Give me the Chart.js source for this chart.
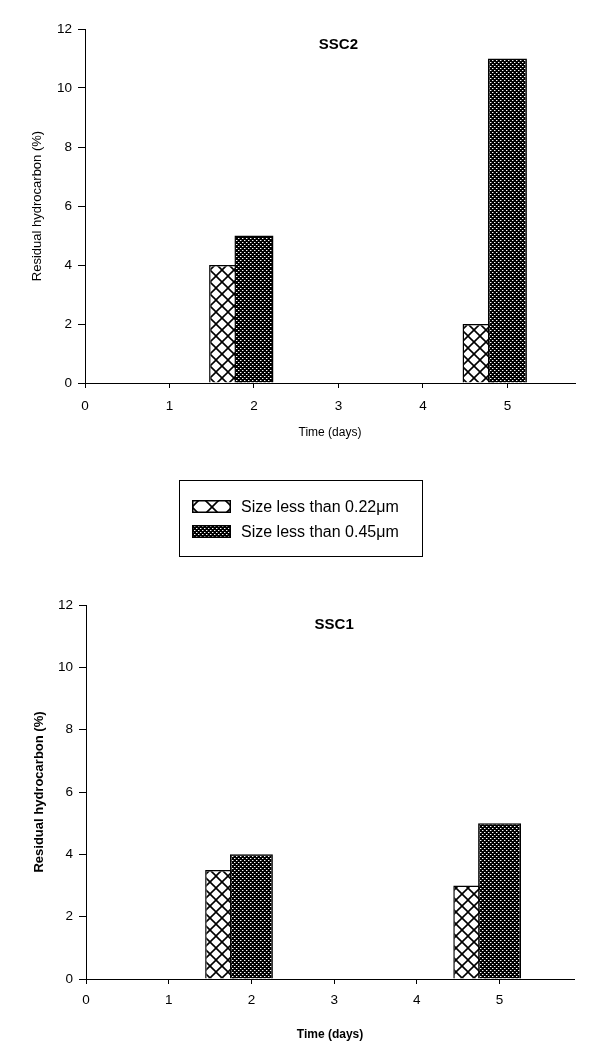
<!DOCTYPE html>
<html>
<head>
<meta charset="utf-8">
<script src="https://cdn.jsdelivr.net/npm/chart.js@4.4.1/dist/chart.umd.min.js"></script>
<style>
  html, body { margin: 0; padding: 0; background: #fff; }
  body { width: 600px; height: 1063px; position: relative; overflow: hidden; font-family: Arial, "Liberation Sans", sans-serif; }
  canvas.plot { position: absolute; left: 0; }
  #legend { position: absolute; left: 179px; top: 480px; width: 244px; height: 77px; border: 1.5px solid #000; box-sizing: border-box; }
  .row { position: absolute; left: 12px; height: 16px; display: flex; align-items: center; font-size: 16px; color: #000; white-space: nowrap; }
  .row canvas { width: 39px; height: 13px; margin-right: 10px; }
</style>
</head>
<body>
<canvas id="topChart" class="plot" width="600" height="453" style="top:0"></canvas>
<div id="legend"></div>
<canvas id="bottomChart" class="plot" width="600" height="475" style="top:576px"></canvas>

<script>
// days on the x axis
var days = [2, 5];
// the finer fraction sits just left of each day, partly behind the coarser bar
var smallDays = [1.7, 4.7];
var xTicks = [0, 1, 2, 3, 4, 5];

var seriesNames = ['Size less than 0.22\u03bcm', 'Size less than 0.45\u03bcm'];

// SSC2 (top)
var ssc2Small = [4, 2];
var ssc2Large = [5, 11];
// SSC1 (bottom)
var ssc1Small = [3.5, 3];
var ssc1Large = [4, 5];

var FONT = 'Arial, "Liberation Sans", sans-serif';

function hatchPattern(size) {
    var c = document.createElement('canvas');
    c.width = size; c.height = size;
    var g = c.getContext('2d');
    g.fillStyle = '#fff';
    g.fillRect(0, 0, size, size);
    g.strokeStyle = '#000';
    g.lineWidth = 1.6;
    [-size, 0, size].forEach(function(k) {
        g.beginPath(); g.moveTo(k - 2, -2); g.lineTo(k + size + 2, size + 2); g.stroke();
        g.beginPath(); g.moveTo(k + size + 2, -2); g.lineTo(k - 2, size + 2); g.stroke();
    });
    return g.createPattern(c, 'repeat');
}

function dotPattern() {
    var c = document.createElement('canvas');
    c.width = 4; c.height = 4;
    var g = c.getContext('2d');
    g.fillStyle = '#000';
    g.fillRect(0, 0, 4, 4);
    g.fillStyle = '#fff';
    g.fillRect(0, 0, 1, 1);
    g.fillRect(2, 2, 1, 1);
    g.fillStyle = '#6a6a6a';
    g.fillRect(1, 0, 1, 1);
    g.fillRect(3, 2, 1, 1);
    return g.createPattern(c, 'repeat');
}

var hatch = hatchPattern(12);
var dots = dotPattern();

// title drawn inside the plot area
var innerTitle = {
    id: 'innerTitle',
    afterDraw: function(chart, args, opts) {
        var ctx = chart.ctx;
        ctx.save();
        ctx.font = opts.font;
        ctx.fillStyle = '#000';
        ctx.textAlign = 'center';
        ctx.textBaseline = 'middle';
        ctx.fillText(opts.text, chart.scales.x.getPixelForValue(opts.atX), chart.chartArea.top + opts.dy);
        ctx.restore();
    }
};

function makeChart(id, s) {
    var ctx = document.getElementById(id).getContext('2d');
    var weight = s.bold ? 'bold' : 'normal';
    return new Chart(ctx, {
        type: 'bar',
        data: {
            datasets: [{
                label: seriesNames[1],
                data: days.map(function(d, i) { return { x: d, y: s.large[i] }; }),
                backgroundColor: dots,
                borderColor: '#000',
                borderWidth: 1.5,
                barPercentage: s.barPct,
                categoryPercentage: 1,
                order: 0
            }, {
                label: seriesNames[0],
                data: smallDays.map(function(d, i) { return { x: d, y: s.small[i] }; }),
                backgroundColor: hatch,
                borderColor: '#000',
                borderWidth: 1.5,
                barPercentage: s.barPct,
                categoryPercentage: 1,
                order: 1
            }]
        },
        options: {
            responsive: false,
            animation: false,
            events: [],
            grouped: false,
            layout: { padding: { left: 0, top: 29, right: s.right, bottom: 0 } },
            plugins: {
                legend: { display: false },
                tooltip: { enabled: false },
                innerTitle: { text: s.title, atX: 3, dy: s.titleDy, font: 'bold 15px ' + FONT }
            },
            scales: {
                x: {
                    type: 'linear',
                    min: 0,
                    max: s.xMax,
                    offset: false,
                    afterFit: function(sc) { sc.height = s.xHeight; },
                    afterBuildTicks: function(sc) {
                        sc.ticks = xTicks.map(function(v) { return { value: v }; });
                    },
                    ticks: {
                        color: '#000',
                        padding: s.xTickPad,
                        maxRotation: 0,
                        font: { family: FONT, size: 13.5 }
                    },
                    grid: { display: true, offset: false, drawOnChartArea: false, drawTicks: true, tickLength: 5, color: '#000' },
                    border: { display: true, color: '#000', width: 1 },
                    title: {
                        display: true,
                        text: 'Time (days)',
                        color: '#000',
                        font: { family: FONT, size: 12, weight: weight },
                        padding: { top: 0, bottom: s.xTitlePad }
                    }
                },
                y: {
                    min: 0,
                    max: 12,
                    afterFit: function(sc) { sc.width = s.yWidth; },
                    ticks: {
                        stepSize: 2,
                        color: '#000',
                        padding: 6,
                        font: { family: FONT, size: 13.5 }
                    },
                    grid: { display: true, drawOnChartArea: false, drawTicks: true, tickLength: 7, color: '#000' },
                    border: { display: true, color: '#000', width: 1 },
                    title: {
                        display: true,
                        text: 'Residual hydrocarbon (%)',
                        color: '#000',
                        font: { family: FONT, size: 13, weight: weight },
                        padding: { top: s.yTitlePad, bottom: 0 }
                    }
                }
            }
        },
        plugins: [innerTitle]
    });
}

makeChart('topChart', {
    title: 'SSC2', small: ssc2Small, large: ssc2Large,
    bold: false, right: 25, xMax: 5.8, yWidth: 85, xHeight: 70,
    xTickPad: 10, xTitlePad: 13, yTitlePad: 30, barPct: 1.54, titleDy: 16
});

makeChart('bottomChart', {
    title: 'SSC1', small: ssc1Small, large: ssc1Large,
    bold: true, right: 26, xMax: 5.9, yWidth: 86, xHeight: 72,
    xTickPad: 8, xTitlePad: 9, yTitlePad: 32, barPct: 1.73, titleDy: 20
});

// legend between the two plots
var legendHatch = hatchPattern(20);
var legend = document.getElementById('legend');
[[seriesNames[0], legendHatch], [seriesNames[1], dots]].forEach(function(item, i) {
    var row = document.createElement('div');
    row.className = 'row';
    row.style.top = (17.5 + i * 25) + 'px';
    var sw = document.createElement('canvas');
    sw.width = 39; sw.height = 13;
    var g = sw.getContext('2d');
    g.save();
    g.translate(10, -3);
    g.fillStyle = item[1];
    g.fillRect(-10, 3, 39, 13);
    g.restore();
    g.strokeStyle = '#000';
    g.lineWidth = 1.5;
    g.strokeRect(0.75, 0.75, 37.5, 11.5);
    var label = document.createElement('span');
    label.textContent = item[0];
    row.appendChild(sw);
    row.appendChild(label);
    legend.appendChild(row);
});
</script>
</body>
</html>
